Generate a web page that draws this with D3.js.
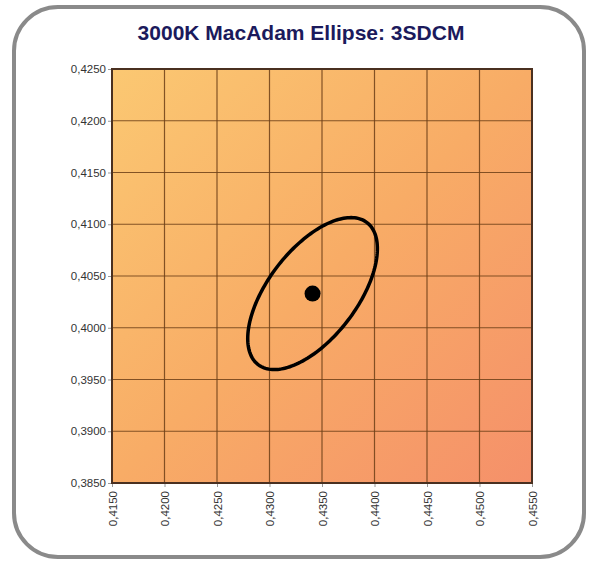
<!DOCTYPE html>
<html><head><meta charset="utf-8">
<script src="https://cdn.jsdelivr.net/npm/d3@7"></script>
<style>html,body{margin:0;padding:0;background:#fff;}svg{display:block;}</style>
</head><body>
<script>
const title = "3000K MacAdam Ellipse: 3SDCM";
const xTicks = [0.4150,0.4200,0.4250,0.4300,0.4350,0.4400,0.4450,0.4500,0.4550];
const yTicks = [0.3850,0.3900,0.3950,0.4000,0.4050,0.4100,0.4150,0.4200,0.4250];
const xDomain = [0.4150, 0.4550];
const yDomain = [0.3850, 0.4250];
const centerPoint = [0.4341, 0.4033];
const ellipseAxes = [0.00860, 0.00425]; // semi-major, semi-minor
const ellipseAngle = [53.2];            // degrees

const W = 591, H = 562;
const svg = d3.select("body").append("svg").attr("width", W).attr("height", H);

svg.append("rect").attr("x", 14).attr("y", 7).attr("width", 570).attr("height", 550)
  .attr("rx", 44).attr("ry", 44).attr("fill", "#fff").attr("stroke", "#8a8a8a").attr("stroke-width", 4);

svg.append("text").attr("x", 301).attr("y", 40).attr("text-anchor", "middle")
  .attr("font-family", "Liberation Sans, Arial, sans-serif").attr("font-weight", "bold")
  .attr("font-size", 21).attr("fill", "#1b1a5c").text(title);

const L = 112, R = 532, T = 69, B = 483;
const x = d3.scaleLinear().domain(xDomain).range([L, R]);
const y = d3.scaleLinear().domain(yDomain).range([B, T]);

const defs = svg.append("defs");
const g1 = defs.append("linearGradient").attr("id", "bg").attr("x1", "0").attr("y1", "0").attr("x2", "1").attr("y2", "1");
g1.append("stop").attr("offset", "0").attr("stop-color", "#fbc872");
g1.append("stop").attr("offset", "0.5").attr("stop-color", "#f8ac66");
g1.append("stop").attr("offset", "1").attr("stop-color", "#f5906a");

svg.append("rect").attr("x", L).attr("y", T).attr("width", R - L).attr("height", B - T).attr("fill", "url(#bg)");

const fmt = d => d3.format(".4f")(d).replace(".", ",");

// grid
svg.append("g").selectAll("line").data(xTicks).join("line")
  .attr("x1", d => x(d)).attr("x2", d => x(d)).attr("y1", T).attr("y2", B)
  .attr("stroke", "#6e4018").attr("stroke-width", 1.2).attr("opacity", 0.85);
svg.append("g").selectAll("line").data(yTicks).join("line")
  .attr("y1", d => y(d)).attr("y2", d => y(d)).attr("x1", L).attr("x2", R)
  .attr("stroke", "#6e4018").attr("stroke-width", 1.2).attr("opacity", 0.85);

// axes
const yAxis = svg.append("g").attr("transform", `translate(${L},0)`)
  .call(d3.axisLeft(y).tickValues(yTicks).tickFormat(fmt).tickSize(4).tickPadding(2));
const xAxis = svg.append("g").attr("transform", `translate(0,${B})`)
  .call(d3.axisBottom(x).tickValues(xTicks).tickFormat(fmt).tickSize(4).tickPadding(2));
[xAxis, yAxis].forEach(a => {
  a.select(".domain").remove();
  a.selectAll(".tick line").attr("stroke", "#999");
  a.selectAll("text").attr("font-family", "Liberation Sans, Arial, sans-serif").attr("font-size", 11.5).attr("fill", "#333");
});
xAxis.selectAll("text").attr("transform", "rotate(-90)").attr("text-anchor", "end")
  .attr("x", -8).attr("y", 0).attr("dy", "0.35em");

// frame
svg.append("rect").attr("x", L).attr("y", T).attr("width", R - L).attr("height", B - T)
  .attr("fill", "none").attr("stroke", "#4a3020").attr("stroke-width", 2);

// ellipse (parametric outline from its centre, semi-axes and angle)
const th = ellipseAngle[0] * Math.PI / 180;
const pts = d3.range(0, 361, 2).map(t => {
  const a = t * Math.PI / 180;
  const u = ellipseAxes[0] * Math.cos(a), v = ellipseAxes[1] * Math.sin(a);
  return [centerPoint[0] + u * Math.cos(th) - v * Math.sin(th), centerPoint[1] + u * Math.sin(th) + v * Math.cos(th)];
});
svg.append("path").datum(pts)
  .attr("d", d3.line().x(d => x(d[0])).y(d => y(d[1])).curve(d3.curveLinearClosed))
  .attr("fill", "none").attr("stroke", "#000").attr("stroke-width", 3.5);

svg.append("circle").attr("cx", x(centerPoint[0])).attr("cy", y(centerPoint[1])).attr("r", 8).attr("fill", "#000");
</script>
</body></html>
